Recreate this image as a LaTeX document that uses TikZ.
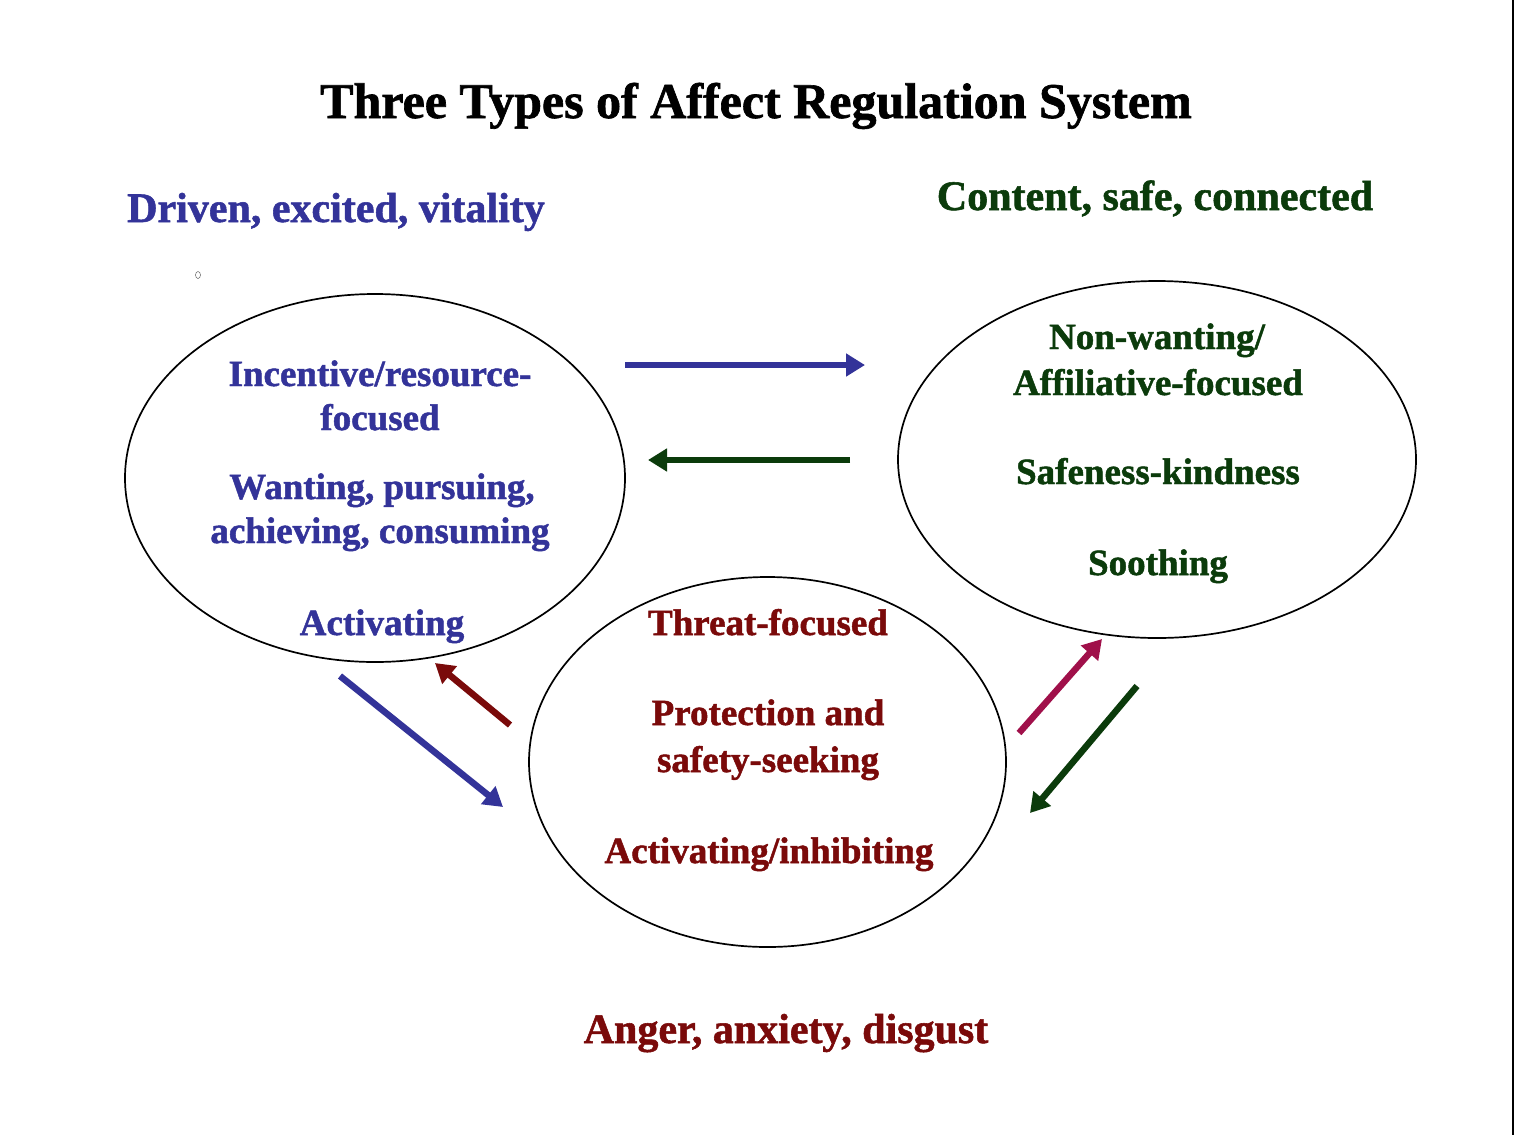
\documentclass[tikz,border=0pt]{standalone}
\usepackage{fontspec}
\setmainfont{Liberation Serif}
\newfontfamily\heavy{Liberation Serif Bold}[FakeBold=1.3]
\usetikzlibrary{arrows.meta,shapes.geometric}
\definecolor{cblue}{HTML}{333399}
\definecolor{cgreen}{HTML}{0B3B0B}
\definecolor{cred}{HTML}{7A0A0A}
\definecolor{ccrim}{HTML}{A0104A}
\begin{document}
\begin{tikzpicture}[x=1pt,y=-1pt,
  oval/.style={draw=black,line width=1.7pt,ellipse},
  head/.style={font=\fontsize{42}{50}\selectfont\heavy,inner sep=0pt,anchor=base},
  inner/.style={font=\fontsize{37}{45}\selectfont\heavy,inner sep=0pt,anchor=base},
  arr/.style={line width=6.5pt,-{Triangle[length=19pt,width=22pt]}}]
\useasboundingbox (0,0) rectangle (1514,1135);
\fill[white] (0,0) rectangle (1514,1135);
\draw[line width=2pt] (1512.5,0) -- (1512.5,1135);
% title
\node[font=\fontsize{50}{58}\selectfont\heavy,inner sep=0pt,anchor=base] (title) at (756,118) {Three Types of Affect Regulation System};
% headers
\node[head,text=cblue] (hdrive) at (336,222) {Driven, excited, vitality};
\node[head,text=cgreen] (hcontent) at (1155,210) {Content, safe, connected};
\node[head,text=cred] (hthreat) at (786,1043) {Anger, anxiety, disgust};
% tiny mark
\draw[line width=0.5pt,black!60] (198,275) ellipse (2.5 and 3.5);
% ellipses
\node[oval,minimum width=500pt,minimum height=368pt] (drive) at (375,478) {};
\node[oval,minimum width=518pt,minimum height=357pt] (soothe) at (1157,459.5) {};
\node[oval,minimum width=477pt,minimum height=370pt] (threat) at (767.5,762) {};
% left texts
\node[inner,text=cblue] (l1) at (380,386) {Incentive/resource-};
\node[inner,text=cblue] (l2) at (380,430) {focused};
\node[inner,text=cblue] (l3) at (382,499) {Wanting, pursuing,};
\node[inner,text=cblue] (l4) at (380,543) {achieving, consuming};
\node[inner,text=cblue] (l5) at (382,635) {Activating};
% right texts
\node[inner,text=cgreen] (r1) at (1157,349) {Non-wanting/};
\node[inner,text=cgreen] (r2) at (1158,395) {Affiliative-focused};
\node[inner,text=cgreen] (r3) at (1158,484) {Safeness-kindness};
\node[inner,text=cgreen] (r4) at (1158,575) {Soothing};
% bottom texts
\node[inner,text=cred] (b1) at (768,635) {Threat-focused};
\node[inner,text=cred] (b2) at (768,725) {Protection and};
\node[inner,text=cred] (b3) at (768,772) {safety-seeking};
\node[inner,text=cred] (b4) at (769,863) {Activating/inhibiting};
% arrow endpoints
\coordinate (a1s) at (625,365); \coordinate (a1e) at (865,365);
\coordinate (a2s) at (850,460); \coordinate (a2e) at (648,460);
\coordinate (a3s) at (340,676); \coordinate (a3e) at (503,807);
\coordinate (a4s) at (510,725); \coordinate (a4e) at (435,663);
\coordinate (a5s) at (1019,733); \coordinate (a5e) at (1102,639);
\coordinate (a6s) at (1137,686); \coordinate (a6e) at (1030,813);
\draw[arr,cblue] (a1s) -- (a1e);
\draw[arr,cgreen] (a2s) -- (a2e);
\draw[arr,cblue] (a3s) -- (a3e);
\draw[arr,cred] (a4s) -- (a4e);
\draw[arr,ccrim] (a5s) -- (a5e);
\draw[arr,cgreen] (a6s) -- (a6e);
\end{tikzpicture}
\end{document}
